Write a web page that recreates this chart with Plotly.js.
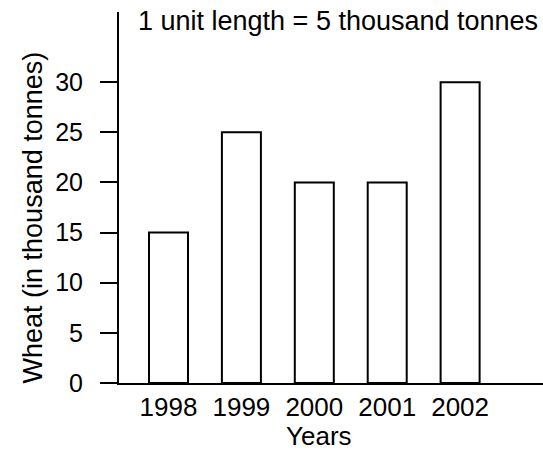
<!DOCTYPE html>
<html>
<head>
<meta charset="utf-8">
<script src="https://cdn.plot.ly/plotly-3.0.1.min.js"></script>
<style>html,body{margin:0;padding:0;background:#fff;}#chart{width:543px;height:452px;}</style>
</head>
<body>
<div id="chart"></div>
<script>
const years = ["1998", "1999", "2000", "2001", "2002"];
const wheat = [15, 25, 20, 20, 30];
const yTickVals = [0, 5, 10, 15, 20, 25, 30];
const note = "1 unit length = 5 thousand tonnes";
const xTitle = "Years";
const yTitle = "Wheat (in thousand tonnes)";

const font = "Liberation Sans, Arial, Helvetica, sans-serif";

const trace = {
  type: "bar",
  x: years,
  y: wheat,
  marker: { color: "#ffffff", line: { color: "#000000", width: 2 } },
  hoverinfo: "x+y"
};

const layout = {
  width: 543,
  height: 452,
  margin: { l: 119, r: 0, t: 12, b: 69, pad: 0 },
  paper_bgcolor: "#ffffff",
  plot_bgcolor: "#ffffff",
  showlegend: false,
  bargap: 0.465,
  font: { family: font, color: "#000000", size: 25 },
  xaxis: {
    type: "category",
    range: [-0.679, 5.137],
    showline: true,
    linecolor: "#000000",
    linewidth: 2,
    ticks: "",
    showgrid: false,
    zeroline: false,
    tickfont: { family: font, size: 26, color: "#000000" },
    ticklabelstandoff: 0
  },
  yaxis: {
    range: [0, 37.0],
    tickvals: yTickVals,
    showline: true,
    linecolor: "#000000",
    linewidth: 2,
    ticks: "outside",
    ticklen: 17,
    tickwidth: 2,
    tickcolor: "#000000",
    showgrid: false,
    zeroline: false,
    tickfont: { family: font, size: 25, color: "#000000" },
    ticklabelstandoff: 12
  },
  annotations: [
    {
      text: note,
      xref: "paper", yref: "paper",
      x: 0.040, y: 0.976,
      xanchor: "left", yanchor: "middle",
      showarrow: false,
      font: { family: font, size: 27, color: "#000000" }
    },
    {
      text: xTitle,
      xref: "paper", yref: "paper",
      x: 0.472, y: -0.143,
      xanchor: "center", yanchor: "middle",
      showarrow: false,
      font: { family: font, size: 26, color: "#000000" }
    },
    {
      text: yTitle,
      xref: "paper", yref: "paper",
      x: -0.203, y: 0.446,
      xanchor: "center", yanchor: "middle",
      textangle: -90,
      showarrow: false,
      font: { family: font, size: 27, color: "#000000" }
    }
  ]
};

Plotly.newPlot("chart", [trace], layout, { displayModeBar: false, staticPlot: true });
</script>
</body>
</html>
